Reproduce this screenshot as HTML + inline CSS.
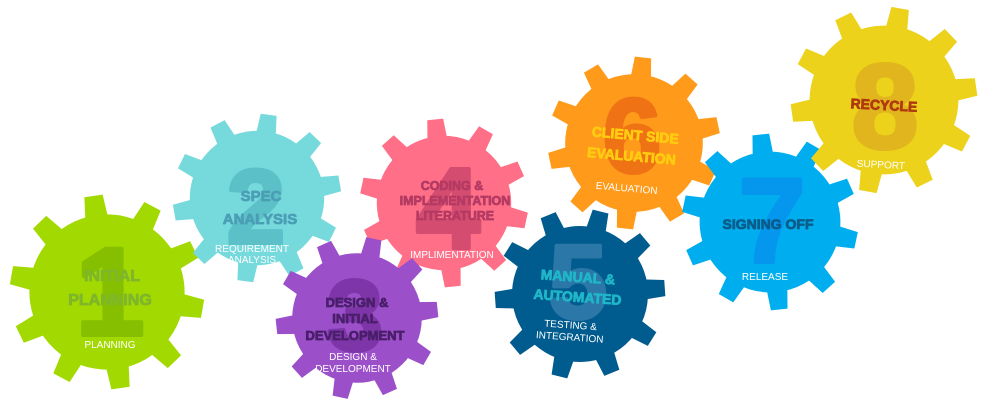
<!DOCTYPE html>
<html><head><meta charset="utf-8"><style>
html,body{margin:0;padding:0;background:#fff;width:1000px;height:400px;overflow:hidden}
svg{display:block}
.b{font-weight:bold;stroke-width:0.8px;stroke-linejoin:round}
.big{font-weight:bold;stroke-width:4px;stroke-linejoin:round}
</style></head><body>
<svg width="1000" height="400" viewBox="0 0 1000 400" font-family="Liberation Sans, Arial, sans-serif" text-anchor="middle">
<defs>
<g id="g">
<circle r="0.8"/>
<polygon id="tt" points="-0.12,-0.74 0.12,-0.74 0.095,-1 -0.095,-1"/>
<use href="#tt" transform="rotate(36)"/><use href="#tt" transform="rotate(72)"/><use href="#tt" transform="rotate(108)"/><use href="#tt" transform="rotate(144)"/><use href="#tt" transform="rotate(180)"/><use href="#tt" transform="rotate(216)"/><use href="#tt" transform="rotate(252)"/><use href="#tt" transform="rotate(288)"/><use href="#tt" transform="rotate(324)"/>
</g>
</defs>

<!-- 1 -->
<use href="#g" fill="#a2d900" transform="translate(107,292) scale(97) rotate(-8)"/>
<text class="big" x="110" y="335" font-size="125" fill="#86bf00" stroke="#86bf00">1</text>
<text class="b" x="112" y="281" fill="#7fb62a" stroke="#7fb62a" font-size="16">INITIAL</text>
<text class="b" x="110" y="305" fill="#7fb62a" stroke="#7fb62a" font-size="16">PLANNING</text>
<text x="110" y="348" fill="#fff" font-size="10">PLANNING</text>

<!-- 2 -->
<use href="#g" fill="#76d9dc" transform="translate(257,198) scale(84) rotate(8)"/>
<text class="big" x="256" y="243" font-size="105" fill="#5cc0c8" stroke="#5cc0c8">2</text>
<text class="b" x="261" y="201" fill="#4a9fb5" stroke="#4a9fb5" font-size="15">SPEC</text>
<text class="b" x="260" y="224" fill="#4a9fb5" stroke="#4a9fb5" font-size="15">ANALYSIS</text>
<text x="252" y="252" fill="#fff" font-size="10">REQUIREMENT</text>
<text x="252" y="263" fill="#fff" font-size="10">ANALYSIS</text>

<!-- 4 -->
<use href="#g" fill="#ff7088" transform="translate(444,203) scale(84) rotate(-6)"/>
<text class="big" x="448" y="248" font-size="115" fill="#d44c70" stroke="#d44c70">4</text>
<text class="b" x="452" y="190" fill="#b53a63" stroke="#b53a63" font-size="12.5">CODING &amp;</text>
<text class="b" x="455" y="205" fill="#b53a63" stroke="#b53a63" font-size="12.5">IMPLEMENTATION</text>
<text class="b" x="455" y="220" fill="#b53a63" stroke="#b53a63" font-size="12.5">LITERATURE</text>
<text x="452" y="258" fill="#fff" font-size="10">IMPLIMENTATION</text>

<!-- 3 -->
<use href="#g" fill="#9b4fc9" transform="translate(357,318) scale(81) rotate(12)"/>
<text class="big" x="355" y="350" font-size="100" fill="#7d35a8" stroke="#7d35a8">3</text>
<text class="b" x="357" y="307" fill="#4a1f6b" stroke="#4a1f6b" font-size="13">DESIGN &amp;</text>
<text class="b" x="355" y="323" fill="#4a1f6b" stroke="#4a1f6b" font-size="13">INITIAL</text>
<text class="b" x="355" y="340" fill="#4a1f6b" stroke="#4a1f6b" font-size="13">DEVELOPMENT</text>
<text x="353" y="360" fill="#fff" font-size="10">DESIGN &amp;</text>
<text x="353" y="372" fill="#fff" font-size="10">DEVELOPMENT</text>

<!-- 5 -->
<use href="#g" fill="#005b8e" transform="translate(580,294) scale(85) rotate(14)"/>
<text class="big" x="578" y="318" font-size="105" fill="#2b78a8" stroke="#2b78a8">5</text>
<g transform="rotate(4,580,290)">
<text class="b" x="577" y="282" fill="#1fb6c8" stroke="#1fb6c8" font-size="14">MANUAL &amp;</text>
<text class="b" x="578" y="302" fill="#1fb6c8" stroke="#1fb6c8" font-size="14">AUTOMATED</text>
<text x="573" y="329" fill="#fff" font-size="10">TESTING &amp;</text>
<text x="573" y="341" fill="#fff" font-size="10">INTEGRATION</text>
</g>

<!-- 6 -->
<use href="#g" fill="#ff9a1a" transform="translate(634,143) scale(86) rotate(6)"/>
<text class="big" x="632" y="172" font-size="105" fill="#ef7315" stroke="#ef7315">6</text>
<g transform="rotate(5,634,150)">
<text class="b" x="634" y="140" fill="#ffcc11" stroke="#ffcc11" font-size="14">CLIENT SIDE</text>
<text class="b" x="632" y="161" fill="#ffcc11" stroke="#ffcc11" font-size="14">EVALUATION</text>
<text x="630" y="192" fill="#fff" font-size="10">EVALUATION</text>
</g>

<!-- 7 -->
<use href="#g" fill="#00aeef" transform="translate(770,222) scale(88) rotate(-6)"/>
<text class="big" x="772" y="262" font-size="120" fill="#0597ee" stroke="#0597ee">7</text>
<text class="b" x="768" y="229" fill="#0b5c8a" stroke="#0b5c8a" font-size="14">SIGNING OFF</text>
<text x="765" y="280" fill="#fff" font-size="10">RELEASE</text>

<!-- 8 -->
<use href="#g" fill="#ecd21a" transform="translate(884,100) scale(93) rotate(10)"/>
<text class="big" x="885" y="148" font-size="120" fill="#e0b51e" stroke="#e0b51e">8</text>
<g transform="rotate(3,884,105)">
<text class="b" x="884" y="110" fill="#b03a0f" stroke="#b03a0f" font-size="14">RECYCLE</text>
<text x="884" y="168" fill="#fff" font-size="10">SUPPORT</text>
</g>
</svg>
</body></html>
